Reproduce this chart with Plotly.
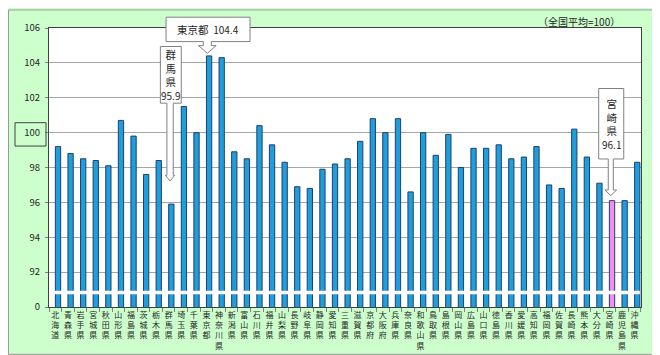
import plotly.graph_objects as go

# ---------------- data ----------------
prefectures = ["北海道", "青森県", "岩手県", "宮城県", "秋田県", "山形県", "福島県", "茨城県", "栃木県", "群馬県",
               "埼玉県", "千葉県", "東京都", "神奈川県", "新潟県", "富山県", "石川県", "福井県", "山梨県", "長野県",
               "岐阜県", "静岡県", "愛知県", "三重県", "滋賀県", "京都府", "大阪府", "兵庫県", "奈良県", "和歌山県",
               "鳥取県", "島根県", "岡山県", "広島県", "山口県", "徳島県", "香川県", "愛媛県", "高知県", "福岡県",
               "佐賀県", "長崎県", "熊本県", "大分県", "宮崎県", "鹿児島県", "沖縄県"]
values = [99.2, 98.8, 98.5, 98.4, 98.1, 100.7, 99.8, 97.6, 98.4, 95.9,
          101.5, 100.0, 104.4, 104.3, 98.9, 98.5, 100.4, 99.3, 98.3, 96.9,
          96.8, 97.9, 98.2, 98.5, 99.5, 100.8, 100.0, 100.8, 96.6, 100.0,
          98.7, 99.9, 98.0, 99.1, 99.1, 99.3, 98.5, 98.6, 99.2, 97.0,
          96.8, 100.2, 98.6, 97.1, 96.1, 96.1, 98.3]
highlight = "宮崎県"
y_tick_values = [90, 92, 94, 96, 98, 100, 102, 104, 106]
y_tick_labels = ["0", "92", "94", "96", "98", "100", "102", "104", "106"]
note_text = "（全国平均=100）"

# ---------------- layout constants ----------------
W, H = 660, 355
ML, MR, MT, MB = 41, 27, 19, 50
PW, PH = W - ML - MR, H - MT - MB
Y0, Y1 = 90, 106
X_RANGE = [-0.715, 46.3]

BLUE = "#1E9FDB"
PINK = "#F28EF0"
EDGE = "#1F3F6E"
BG = "#CCFFCC"

idx = list(range(len(prefectures)))
colors = [PINK if p == highlight else BLUE for p in prefectures]
ticktext = ["<br>".join(list(p)) for p in prefectures]


def yp(v):
    return (v - Y0) / (Y1 - Y0)


fig = go.Figure()
fig.add_trace(go.Bar(
    x=idx, y=values, width=0.42,
    marker=dict(color=colors, line=dict(color=EDGE, width=1)),
    hoverinfo="skip", showlegend=False,
))

shapes = []
annotations = []

# axis break band
shapes.append(dict(type="rect", xref="paper", yref="y", x0=0.002, x1=0.998, y0=90.73, y1=90.93,
                   fillcolor="white", line=dict(width=0), layer="above"))

# box around the "100" tick label
shapes.append(dict(type="rect", xref="paper", yref="y", x0=(7 - ML) / PW, x1=(38 - ML) / PW,
                   y0=99.23, y1=100.57, line=dict(color="#404040", width=1), fillcolor="rgba(0,0,0,0)",
                   layer="above"))


def callout(name, box_dx, box_y, shaft_hw, head_hw, head_gap, tip_gap, tip_dx, text, text_font):
    i = prefectures.index(name)
    v = values[i]
    tx = i + tip_dx
    tip = v + tip_gap
    htop = tip + head_gap
    bx0, bx1 = i + box_dx[0], i + box_dx[1]
    by0, by1 = box_y
    pts = [(bx0, by1), (bx1, by1), (bx1, by0), (tx + shaft_hw, by0), (tx + shaft_hw, htop),
           (tx + head_hw, htop), (tx, tip), (tx - head_hw, htop), (tx - shaft_hw, htop),
           (tx - shaft_hw, by0), (bx0, by0)]
    path = "M " + " L ".join(f"{x:.4f},{yp(y):.5f}" for x, y in pts) + " Z"
    shapes.append(dict(type="path", xref="x", yref="paper", path=path, fillcolor="white",
                       line=dict(color="#808080", width=1), layer="above"))
    annotations.append(dict(x=(bx0 + bx1) / 2, y=(by0 + by1) / 2, xref="x", yref="y", text=text,
                            showarrow=False, font=text_font, xanchor="center", yanchor="middle"))


cfont = dict(family="Noto Sans CJK JP", size=10.5, color="#262626")
callout("東京都", (-3.42, 3.25), (105.22, 106.62), 0.32, 0.7, 0.44, 0.15, -0.14,
        "東京都&nbsp;&nbsp;<span style='font-size:10px'>104.4</span>", cfont)
callout("群馬県", (-0.87, 0.79), (101.69, 104.94), 0.25, 0.37, 0.32, 1.33, -0.1,
        "群<br>馬<br>県<br><span style='font-size:10px'>95.9</span>", cfont)
callout("宮崎県", (-1.06, 0.93), (98.49, 102.53), 0.2, 0.47, 0.32, 0.29, -0.1,
        "宮<br>崎<br>県<br><span style='font-size:10px'>96.1</span>", cfont)

# note text
annotations.append(dict(x=(614 - ML) / PW, y=(H - MB - 12) / PH, xref="paper", yref="paper",
                        text=note_text, showarrow=False, xanchor="right", yanchor="middle",
                        font=dict(family="Noto Sans CJK JP", size=10, color="#262626")))

# outer border
shapes.append(dict(type="rect", xref="paper", yref="paper",
                   x0=(-ML + 0.5) / PW, x1=1 + (MR - 1.5) / PW,
                   y0=(-MB + 1.5) / PH, y1=1 + (MT - 0.5) / PH,
                   line=dict(color="#9A9A9A", width=1), fillcolor="rgba(0,0,0,0)", layer="above"))

fig.update_layout(
    width=W, height=H,
    margin=dict(l=ML, r=MR, t=MT, b=MB, pad=0),
    paper_bgcolor=BG, plot_bgcolor="white",
    bargap=0.58,
    shapes=shapes, annotations=annotations,
    font=dict(family="Noto Sans CJK JP", color="#262626"),
    xaxis=dict(range=X_RANGE, tickmode="array", tickvals=[i - 0.21 for i in idx], ticktext=ticktext,
               ticks="", showgrid=False, showline=True, linecolor="#404040", linewidth=1, mirror=True,
               tickfont=dict(family="Noto Sans CJK JP", size=8, color="#262626"),
               minor=dict(tickmode="linear", tick0=-0.71, dtick=1, ticks="outside", ticklen=4,
                          tickcolor="#808080", showgrid=False),
               zeroline=False, fixedrange=True),
    yaxis=dict(range=[Y0, Y1], tickmode="array", tickvals=y_tick_values, ticktext=y_tick_labels,
               showgrid=True, gridcolor="#A6A6A6", gridwidth=1, showline=True, linecolor="#404040",
               linewidth=1, mirror=True, ticks="outside", ticklen=3, tickcolor="#808080",
               tickfont=dict(family="Noto Sans CJK JP", size=9.5, color="#262626"),
               zeroline=False, fixedrange=True, ticklabelstandoff=3),
)

fig.write_html("out.html")
